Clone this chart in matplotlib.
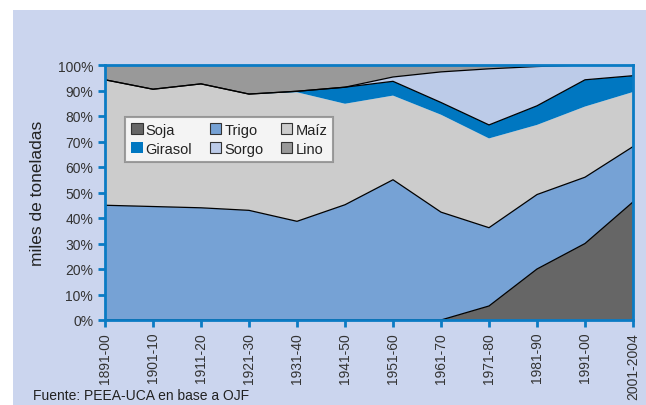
import numpy as np
import matplotlib
matplotlib.use("Agg")
import matplotlib.pyplot as plt
from matplotlib.patches import Rectangle, Patch

periods = ["1891-00", "1901-10", "1911-20", "1921-30", "1931-40", "1941-50",
           "1951-60", "1961-70", "1971-80", "1981-90", "1991-00", "2001-2004"]
soja    = [0, 0, 0, 0, 0, 0, 0, 0, 5.5, 20, 30, 46.3]
trigo   = [45, 44.5, 44, 43, 38.7, 45.2, 55, 42.3, 30.7, 29.2, 26, 21.7]
maiz    = [49.2, 46, 48.6, 45.6, 50.6, 39.6, 33, 38.2, 35, 27.3, 27.7, 21.4]
girasol = [0, 0, 0, 0, 0.4, 6.5, 5.6, 4.8, 5.3, 7.5, 10.5, 6.4]
sorgo   = [0, 0, 0, 0, 0, 0, 1.7, 12, 22, 15.4, 5.8, 4.2]
lino    = [5.8, 9.5, 7.4, 11.4, 10.3, 8.7, 4.7, 2.7, 1.5, 0.6, 0, 0]

names = ["Soja", "Trigo", "Maíz", "Girasol", "Sorgo", "Lino"]
series = [soja, trigo, maiz, girasol, sorgo, lino]
colors = ["#666666", "#76a2d5", "#cccccc", "#0077c1", "#bccbe8", "#999999"]

plt.rcParams['font.family'] = ['Liberation Sans', 'DejaVu Sans']

fig = plt.figure(figsize=(6.46, 4.06), dpi=100)
fig.patch.set_facecolor("white")
bg = Rectangle((13/646, 0), 1 - 13/646, 1 - 11/406, transform=fig.transFigure,
               facecolor="#cbd5ee", edgecolor="none", zorder=-10)
fig.patches.append(bg)

ax = fig.add_axes([105/646, 1 - 321/406, 528/646, 255/406])
ax.set_zorder(1)
x = np.arange(len(periods))
vals = [np.array(s, dtype=float) for s in series]
tot = np.sum(vals, axis=0)
vals = [v / tot * 100 for v in vals]
ax.stackplot(x, *vals, colors=colors, linewidth=0)

cum = np.cumsum(vals, axis=0)
for idx in [0, 1, 3, 4]:
    ax.plot(x, cum[idx], color="black", linewidth=0.9)

ax.set_xlim(0, len(periods) - 1)
ax.set_ylim(0, 100)
ax.set_yticks(np.arange(0, 101, 10))
ax.set_yticklabels([f"{v}%" for v in range(0, 101, 10)])
ax.set_xticks(x)
ax.set_xticklabels(periods, rotation=90)

blue = "#0a7bc4"
for sp in ax.spines.values():
    sp.set_color(blue)
    sp.set_linewidth(2)
ax.tick_params(axis='both', colors=blue, length=5, width=2, direction='out',
               labelcolor="#333333", labelsize=10)

ax.set_ylabel("miles de toneladas", fontsize=12.5, color="#222222", labelpad=9)

handles = []
order = [0, 3, 1, 4, 2, 5]
for i in order:
    ec = "none" if names[i] == "Girasol" else "#333333"
    handles.append(Patch(facecolor=colors[i], edgecolor=ec, linewidth=0.8, label=names[i]))
leg = ax.legend(handles=handles, ncol=3, loc="upper left",
                bbox_to_anchor=(20/528, (321-118)/255), borderaxespad=0,
                fontsize=10.5, frameon=True, fancybox=False,
                handlelength=0.8, handleheight=0.8, handletextpad=0.2,
                columnspacing=1.2, labelspacing=0.35, borderpad=0.4)
leg.get_frame().set_edgecolor("#888888")
leg.get_frame().set_linewidth(1.5)
for t in leg.get_texts():
    t.set_color("#222222")

fig.text(33/646, 1 - 400/406, "Fuente: PEEA-UCA en base a OJF", fontsize=10,
         color="#222222", va="baseline", ha="left")

fig.savefig("out.png", dpi=100, facecolor=fig.get_facecolor())
